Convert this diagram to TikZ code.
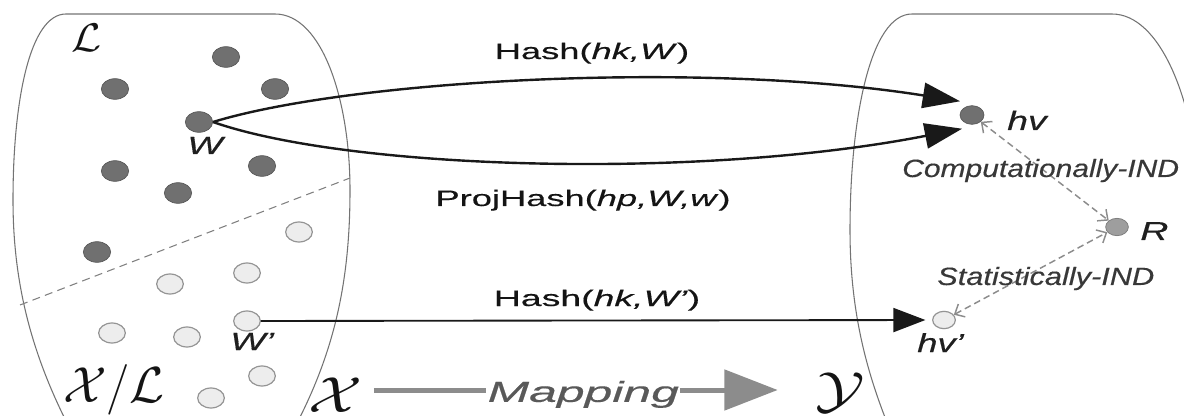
\RequirePackage{fix-cm}
\documentclass[tikz,border=0pt]{standalone}
\usepackage{fontspec}
\usepackage{graphicx}
\usetikzlibrary{arrows.meta,shapes.geometric}
\setmainfont[FakeBold=0.3]{Liberation Sans}
\newcommand{\sx}[2]{\scalebox{#1}[1]{#2}}
\newcommand{\fsz}[1]{\fontsize{#1}{#1}\selectfont}
\begin{document}
\begin{tikzpicture}[x=0.75pt,y=-0.75pt,
  setline/.style={draw=black!55, line width=0.8pt},
  divline/.style={draw=black!50, line width=0.8pt, dash pattern=on 6pt off 4pt},
  dkdot/.style={ellipse, fill=black!56, draw=black!66, line width=0.5pt, minimum width=20.5pt, minimum height=15.5pt, inner sep=0pt},
  ltdot/.style={ellipse, fill=black!7, draw=black!42, line width=0.9pt, minimum width=20pt, minimum height=15pt, inner sep=0pt},
  mddot/.style={ellipse, fill=black!38, draw=black!50, line width=0.6pt, minimum width=17pt, minimum height=13pt, inner sep=0pt},
  bigarr/.style={draw=black!90, line width=1.8pt, -{Triangle[length=28pt,width=19pt]}},
  midarr/.style={draw=black!90, line width=1.4pt, -{Triangle[length=24pt,width=18pt]}},
  dasharr/.style={draw=black!45, line width=1.1pt, dash pattern=on 5pt off 3pt,
     {Straight Barb[length=6pt,width=11pt]}-{Straight Barb[length=6pt,width=11pt]}},
  maparr/.style={draw=black!45, line width=3.75pt, -{Triangle[length=40pt,width=30pt]}},
  lab/.style={inner sep=0pt, text=black!92, font=\fsz{16.8pt}},
  smlab/.style={inner sep=0pt, text=black!78, font=\fsz{18.75pt}\itshape},
  vlab/.style={inner sep=0pt, text=black!88, font=\fsz{19.5pt}\itshape},
  calab/.style={inner sep=0pt, text=black!92}
]
\useasboundingbox (0,0) rectangle (1184,416);
\begin{scope}
\clip (0,0) rectangle (1184,416);
% set X (left)
\draw[setline] (68,425) .. controls (30,350) and (13,280) .. (13,200)
  .. controls (13,100) and (30,14) .. (66,14) -- (275,14)
  .. controls (322,14) and (350,100) .. (350,190)
  .. controls (350,280) and (335,350) .. (296,425);
% set Y (right)
\draw[setline] (888,425) .. controls (866,370) and (850,310) .. (850,230)
  .. controls (850,120) and (870,14) .. (912,14) -- (1112,14)
  .. controls (1160,14) and (1195,100) .. (1200,200);
\end{scope}
% divider
\draw[divline] (20,305) -- (350,178);

% dark dots (language L)
\node[dkdot] (d1) at (226,57) {};
\node[dkdot] (d2) at (115,89) {};
\node[dkdot] (d3) at (275,89) {};
\node[dkdot] (w)  at (199,122) {};
\node[dkdot] (d5) at (115,171) {};
\node[dkdot] (d6) at (262,166) {};
\node[dkdot] (d7) at (178,193) {};
\node[dkdot] (d8) at (97,252) {};
% light dots (X/L)
\node[ltdot] (l1) at (299,232) {};
\node[ltdot] (l2) at (247,273) {};
\node[ltdot] (l3) at (170,284) {};
\node[ltdot] (wp) at (247,321) {};
\node[ltdot] (l5) at (112,333) {};
\node[ltdot] (l6) at (187,337) {};
\node[ltdot] (l7) at (262,376) {};
\node[ltdot] (l8) at (211,398) {};

% right set points
\node[dkdot, minimum width=18pt, minimum height=14pt] (hv) at (972,115) {};
\node[mddot] (r) at (1117,227) {};
\node[ltdot, minimum width=17pt, minimum height=13pt] (hvp) at (944,320) {};

% labels in sets
\node[calab, font=\fsz{30pt}] (cl) at (87,38) {\sx{1.09}{$\mathcal{L}$}};
\node[calab, font=\fsz{38pt}] (cxl) at (114,390) {$\mathcal{X}/\mathcal{L}$};
\node[vlab, font=\fsz{18.75pt}\itshape, anchor=base] (wl) at (205,154) {\sx{1.5}{W}};
\node[vlab, font=\fsz{18.75pt}\itshape, anchor=base west] (wpl) at (230,350) {\sx{1.5}{W'}};
\node[vlab, font=\fsz{20pt}\itshape, anchor=base west] (hvl) at (1007,130) {\sx{1.4}{hv}};
\node[vlab, anchor=base west] (rl) at (1140,240) {\sx{1.5}{R}};
\node[vlab, anchor=base west] (hvpl) at (917,352) {\sx{1.4}{hv'}};

% hash arrows
\draw[bigarr] (w.east) .. controls (350,80) and (700,60) .. ([shift={(-2,-8)}]hv.150);
\draw[bigarr] (w.east) .. controls (350,170) and (700,180) .. ([shift={(0,8)}]hv.210);
\draw[midarr, shorten >=5pt] (wp.east) -- (hvp.west);

\node[lab, anchor=base] (h1) at (592,59) {\sx{1.62}{Hash(\textit{hk,W})}};
\node[lab, anchor=base] (h2) at (583,206) {\sx{1.62}{ProjHash(\textit{hp,W,w})}};
\node[lab, anchor=base] (h3) at (597,306) {\sx{1.67}{Hash(\textit{hk,W'})}};

% indistinguishability
\draw[dasharr] (hv) -- (r);
\draw[dasharr] (hvp) -- (r);
\node[smlab, anchor=base west] (ci) at (902,177) {\sx{1.2}{Computationally-IND}};
\node[smlab, anchor=base west] (si) at (937,285) {\sx{1.23}{Statistically-IND}};

% mapping
\node[calab, font=\fsz{38pt}] (X) at (336,395) {\sx{1.24}{$\mathcal{X}$}};
\node[calab, font=\fsz{38pt}] (Y) at (840,393) {\sx{1.3}{$\mathcal{Y}$}};
\draw[maparr, shorten <=8pt, shorten >=28pt] ([yshift=3.75pt]X.east) --
  node[pos=0.487, fill=white, inner sep=1pt, yshift=-3.3pt, text=black!65, font=\fsz{21.75pt}\itshape] (mp) {\sx{1.72}{Mapping}}
  ([yshift=3.75pt]X.east -| Y.west);
\end{tikzpicture}
\end{document}
